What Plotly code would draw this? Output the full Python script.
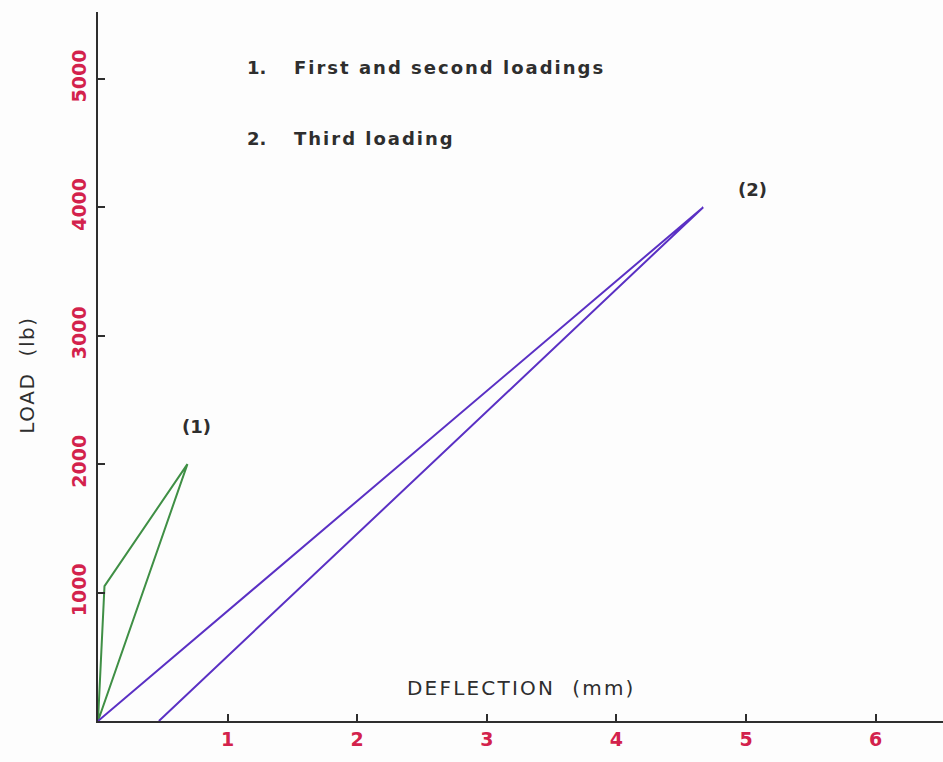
import plotly.graph_objects as go

# Load-deflection loops for the two test series
first_second_defl = [0.0, 0.05, 0.69, 0.0]      # mm
first_second_load = [0, 1050, 2000, 0]          # lb
third_defl = [0.0, 4.67, 0.47]                  # mm
third_load = [0, 4000, 0]                       # lb

x_ticks = [1, 2, 3, 4, 5, 6]
y_ticks = [1000, 2000, 3000, 4000, 5000]

GREEN = "#3f8f45"
PURPLE = "#5a30c4"
RED = "#d3224c"
INK = "#2e2e2e"
FONT = "DejaVu Sans"


def spaced(text, px):
    """Wrap text in a span with extra letter spacing (plotter-style lettering)."""
    return f'<span style="letter-spacing:{px}px">{text}</span>'


fig = go.Figure()
fig.add_trace(go.Scatter(x=first_second_defl, y=first_second_load, mode="lines",
                         line=dict(color=GREEN, width=2), hoverinfo="skip"))
fig.add_trace(go.Scatter(x=third_defl, y=third_load, mode="lines",
                         line=dict(color=PURPLE, width=2), hoverinfo="skip"))

label_font = dict(family=FONT, size=18, color=INK, weight="bold")
axis_font = dict(family=FONT, size=20, color=INK)

annotations = [
    dict(text="1.", x=0.174, y=0.922, xref="paper", yref="paper",
         xanchor="left", yanchor="middle", showarrow=False, font=label_font),
    dict(text=spaced("First and second loadings", 2.0), x=0.229, y=0.922,
         xref="paper", yref="paper", xanchor="left", yanchor="middle",
         showarrow=False, font=label_font),
    dict(text="2.", x=0.174, y=0.822, xref="paper", yref="paper",
         xanchor="left", yanchor="middle", showarrow=False, font=label_font),
    dict(text=spaced("Third loading", 2.0), x=0.229, y=0.822,
         xref="paper", yref="paper", xanchor="left", yanchor="middle",
         showarrow=False, font=label_font),
    dict(text="(1)", x=first_second_defl[2] + 0.07, y=first_second_load[2] + 290,
         xref="x", yref="y", showarrow=False, font=label_font),
    dict(text="(2)", x=third_defl[1] + 0.38, y=third_load[1] + 135,
         xref="x", yref="y", showarrow=False, font=label_font),
    dict(text=spaced("DEFLECTION&nbsp;&nbsp;(mm)", 2.2), x=0.5006, y=0.047,
         xref="paper", yref="paper", xanchor="center", yanchor="middle",
         showarrow=False, font=axis_font),
    dict(text=spaced("LOAD&nbsp;&nbsp;(lb)", 1.6), x=-0.084, y=0.487, textangle=-90,
         xref="paper", yref="paper", xanchor="center", yanchor="middle",
         showarrow=False, font=axis_font),
]

tick_font = dict(family=FONT, size=19, color=RED, weight="bold")

fig.update_layout(
    width=943, height=762,
    margin=dict(l=98, r=0, t=12, b=41),
    paper_bgcolor="#fdfdfd", plot_bgcolor="#fdfdfd",
    showlegend=False,
    annotations=annotations,
    xaxis=dict(range=[0, 6.52], tickvals=x_ticks, ticktext=[str(v) for v in x_ticks],
               ticks="inside", ticklen=7, tickwidth=2, tickcolor=INK,
               showline=True, linecolor=INK, linewidth=2,
               showgrid=False, zeroline=False, tickfont=tick_font),
    yaxis=dict(range=[0, 5520], tickvals=y_ticks, ticktext=[str(v) for v in y_ticks],
               ticks="inside", ticklen=7, tickwidth=2, tickcolor=INK,
               showline=True, linecolor=INK, linewidth=2,
               showgrid=False, zeroline=False, tickangle=-90,
               ticklabelstandoff=2, tickfont=tick_font),
)

fig.write_html("out.html")
